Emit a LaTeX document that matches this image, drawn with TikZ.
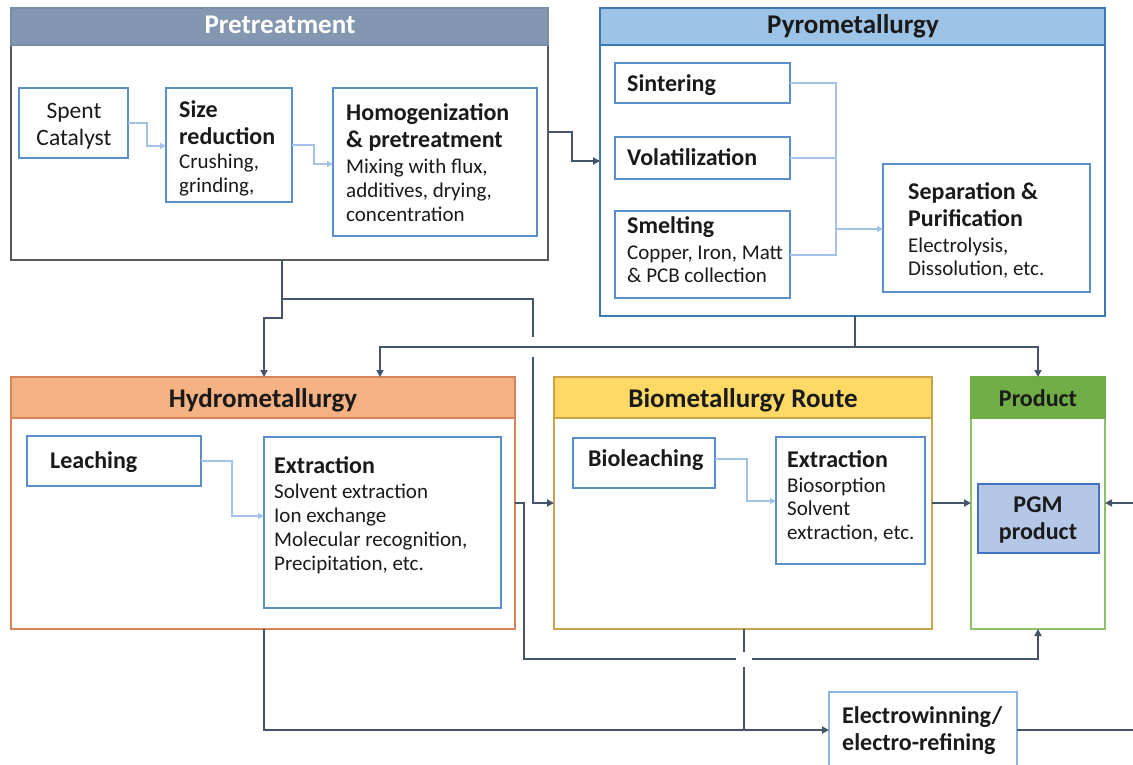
\documentclass[tikz,border=0pt]{standalone}
\usepackage{fontspec}
\setmainfont{Carlito}
\usetikzlibrary{arrows.meta}
\definecolor{preedge}{HTML}{595959}
\definecolor{prehead}{HTML}{8497B0}
\definecolor{preheadedge}{HTML}{7A8DA8}
\definecolor{pyrohead}{HTML}{9DC3E6}
\definecolor{pyroedge}{HTML}{3C78B5}
\definecolor{hydrohead}{HTML}{F4B183}
\definecolor{hydroedge}{HTML}{D6845A}
\definecolor{biohead}{HTML}{FFD966}
\definecolor{bioedge}{HTML}{C9A44A}
\definecolor{prodhead}{HTML}{70AD47}
\definecolor{prodedge}{HTML}{8CC36A}
\definecolor{inedge}{HTML}{5B8FCC}
\definecolor{eledge}{HTML}{8DB4E2}
\definecolor{lightarr}{HTML}{A4C2E8}
\definecolor{darkln}{HTML}{44546A}
\definecolor{pgmfill}{HTML}{B4C7E7}
\definecolor{pgmedge}{HTML}{4472C4}
\definecolor{txt}{HTML}{1A1A1A}
\newcommand\mystrut[1]{\rule{0pt}{#1pt}}
\tikzset{
  obox/.style={draw=#1, line width=1.5pt, fill=white, anchor=north west, inner sep=0pt, outer sep=0pt},
  hbox/.style={draw=#1, line width=1.5pt, anchor=north west, inner sep=0pt, outer sep=0pt},
  ibox/.style={draw=inedge, line width=1.5pt, fill=white, anchor=north west, inner sep=0pt, outer sep=0pt},
  hd/.style={anchor=base, inner sep=0pt, text=#1, font=\bfseries\fontsize{27}{32}\selectfont},
  tt/.style={anchor=north west, inner sep=0pt, align=left, text=txt, font=\bfseries\fontsize{24}{27}\selectfont},
  st/.style={anchor=north west, inner sep=0pt, align=left, text=txt, font=\fontsize{21}{24}\selectfont},
  lt/.style={draw=lightarr, line width=1.2pt, -{Triangle[length=6pt,width=6pt]}},
  ltl/.style={draw=lightarr, line width=1.2pt},
  dk/.style={draw=darkln, line width=2pt},
  dka/.style={draw=darkln, line width=2pt, -{Triangle[length=7pt,width=7pt]}},
}
\begin{document}
\begin{tikzpicture}[x=1pt,y=-1pt]
\useasboundingbox (0,0) rectangle (1133,765);
\fill[white] (0,0) rectangle (1133,765);

% ---------- outer boxes ----------
\node[obox=preedge, minimum width=537pt, minimum height=252pt] (pre) at (11,8) {};
\node[hbox=preheadedge, fill=prehead, minimum width=537pt, minimum height=37pt] (prehd) at (11,8) {};
\node[hd=white] (pretitle) at (280,34) {Pretreatment};

\node[obox=pyroedge, minimum width=505pt, minimum height=308pt] (pyro) at (600,8) {};
\node[hbox=pyroedge, fill=pyrohead, minimum width=505pt, minimum height=37pt] (pyrohd) at (600,8) {};
\node[hd=txt] (pyrotitle) at (853,34) {Pyrometallurgy};

\node[obox=hydroedge, minimum width=504pt, minimum height=252pt] (hydro) at (11,377) {};
\node[hbox=hydroedge, fill=hydrohead, minimum width=504pt, minimum height=41pt] (hydrohd) at (11,377) {};
\node[hd=txt] (hydrotitle) at (263,407) {Hydrometallurgy};

\node[obox=bioedge, minimum width=378pt, minimum height=252pt] (bio) at (554,377) {};
\node[hbox=bioedge, fill=biohead, minimum width=378pt, minimum height=41pt] (biohd) at (554,377) {};
\node[hd=txt] (biotitle) at (743,407) {Biometallurgy Route};

\node[obox=prodedge, minimum width=134pt, minimum height=252pt] (prod) at (971,377) {};
\node[hbox=prodhead, fill=prodhead, minimum width=134pt, minimum height=41pt] (prodhd) at (971,377) {};
\node[hd=txt, font=\bfseries\fontsize{24}{28}\selectfont] (prodtitle) at (1038,406) {Product};

% ---------- inner boxes ----------
\node[ibox, minimum width=109pt, minimum height=70pt] (spent) at (19,88) {};
\node[ibox, minimum width=126pt, minimum height=114pt] (size) at (166,88) {};
\node[ibox, minimum width=204pt, minimum height=148pt] (homog) at (333,88) {};
\node[ibox, minimum width=175pt, minimum height=40pt] (sint) at (615,63) {};
\node[ibox, minimum width=175pt, minimum height=42pt] (vola) at (615,137) {};
\node[ibox, minimum width=175pt, minimum height=87pt] (smelt) at (615,211) {};
\node[ibox, minimum width=207pt, minimum height=128pt] (sep) at (883,164) {};
\node[ibox, minimum width=174pt, minimum height=50pt] (leach) at (27,436) {};
\node[ibox, minimum width=237pt, minimum height=171pt] (hext) at (264,437) {};
\node[ibox, minimum width=142pt, minimum height=50pt] (bleach) at (573,438) {};
\node[ibox, minimum width=149pt, minimum height=127pt] (bext) at (776,437) {};
\node[ibox, draw=pgmedge, fill=pgmfill, minimum width=121pt, minimum height=69pt] (pgm) at (978,484) {};
\node[ibox, draw=eledge, minimum width=188pt, minimum height=100pt] (electro) at (829,692) {};

% ---------- texts ----------
\node[anchor=north, inner sep=0pt, align=center, text=txt, font=\fontsize{23.5}{27}\selectfont] (tspent) at (74,101) {\mystrut{17}Spent\\Catalyst};
\node[tt] (tsize) at (179,99) {\mystrut{18}Size\\reduction};
\node[st] (ssize) at (179,152) {\mystrut{16}Crushing,\\grinding,};
\node[tt] (thomog) at (346,102) {\mystrut{18}Homogenization\\\& pretreatment};
\node[st] (shomog) at (346,157) {\mystrut{16}Mixing with flux,\\additives, drying,\\concentration};
\node[tt] (tsint) at (627,73) {\mystrut{18}Sintering};
\node[tt] (tvola) at (627,147) {\mystrut{18}Volatilization};
\node[tt] (tsmelt) at (627,215) {\mystrut{18}Smelting};
\node[st, font=\fontsize{21}{23.5}\selectfont] (ssmelt) at (627,243) {\mystrut{16}Copper, Iron, Matt\\\& PCB collection};
\node[tt] (tsep) at (908,181) {\mystrut{18}Separation \&\\Purification};
\node[st, font=\fontsize{21}{23.5}\selectfont] (ssep) at (908,236) {\mystrut{16}Electrolysis,\\Dissolution, etc.};
\node[tt] (tleach) at (50,450) {\mystrut{18}Leaching};
\node[tt] (thext) at (274,455) {\mystrut{18}Extraction};
\node[st] (shext) at (274,482) {\mystrut{16}Solvent extraction\\Ion exchange\\Molecular recognition,\\Precipitation, etc.};
\node[tt] (tbleach) at (588,448) {\mystrut{18}Bioleaching};
\node[tt] (tbext) at (787,449) {\mystrut{18}Extraction};
\node[st, font=\fontsize{21}{23.5}\selectfont] (sbext) at (787,476) {\mystrut{16}Biosorption\\Solvent\\extraction, etc.};
\node[tt, anchor=north, align=center] (tpgm) at (1038,494) {\mystrut{18}PGM\\product};
\node[tt] (telectro) at (842,705) {\mystrut{18}Electrowinning/\\electro-refining};

% ---------- light arrows inside boxes ----------
\coordinate (b1) at (147,146);
\draw[lt] (spent.east) -| (b1) -- (size.west |- b1);
\coordinate (b2) at (314,164);
\draw[lt] (size.east) -| (b2) -- (homog.west |- b2);
\coordinate (pj) at (836,229);
\coordinate (pjs) at (836,255);
\draw[ltl] (sint.east) -| (pjs) -- (smelt.east |- pjs);
\draw[ltl] (vola.east) -- (vola.east -| pj);
\draw[lt] (pj) -- (sep.west |- pj);
\coordinate (b3) at (232,516);
\draw[lt] (leach.east) -| (b3) -- (hext.west |- b3);
\coordinate (b4a) at (747,459);
\coordinate (b4) at (747,501);
\draw[lt] (bleach.east |- b4a) -- (b4a) -- (b4) -- (bext.west |- b4);

% ---------- dark connectors ----------
\coordinate (c1) at (572,132);
\coordinate (c2) at (572,161);
\draw[dka] (pre.east |- c1) -- (c1) -- (c2) -- (pyro.west |- c2);

\coordinate (c3) at (282,299);
\coordinate (c4) at (282,318);
\coordinate (c5) at (264,318);
\draw[dka] (pre.south -| c3) -- (c4) -- (c5) -- (hydro.north -| c5);
\coordinate (c6) at (533,299);
\coordinate (c7) at (533,337);
\coordinate (c8) at (533,357);
\coordinate (c9) at (533,503);
\draw[dk] (c3) -- (c6) -- (c7);
\draw[dka] (c8) -- (c9) -- (bio.west |- c9);

\coordinate (c10) at (855,347);
\coordinate (c11) at (380,347);
\coordinate (c12) at (1038,347);
\draw[dk] (pyro.south -| c10) -- (c10);
\draw[dka] (c10) -- (c11) -- (hydro.north -| c11);
\draw[dka] (c10) -- (c12) -- (prod.north -| c12);

\coordinate (c13) at (524,503);
\coordinate (c14) at (524,659);
\coordinate (c16) at (736,659);
\coordinate (c17) at (752,659);
\coordinate (c15) at (1038,659);
\draw[dk] (hydro.east |- c13) -- (c13) -- (c14) -- (c16);
\draw[dka] (c17) -- (c15) -- (prod.south -| c15);

\draw[dka] (bio.east |- c9) -- (prod.west |- c9);
\coordinate (r1) at (1140,503);
\draw[dka] (r1) -- (prod.east |- r1);

\coordinate (c18) at (744,652);
\coordinate (c19) at (744,667);
\coordinate (c20) at (744,730);
\draw[dk] (bio.south -| c18) -- (c18);
\draw[dk] (c19) -- (c20);

\coordinate (c21) at (264,730);
\draw[dka] (hydro.south -| c21) -- (c21) -- (electro.west |- c21);
\coordinate (r2) at (1140,730);
\draw[dk] (electro.east |- r2) -- (r2);
\end{tikzpicture}
\end{document}
